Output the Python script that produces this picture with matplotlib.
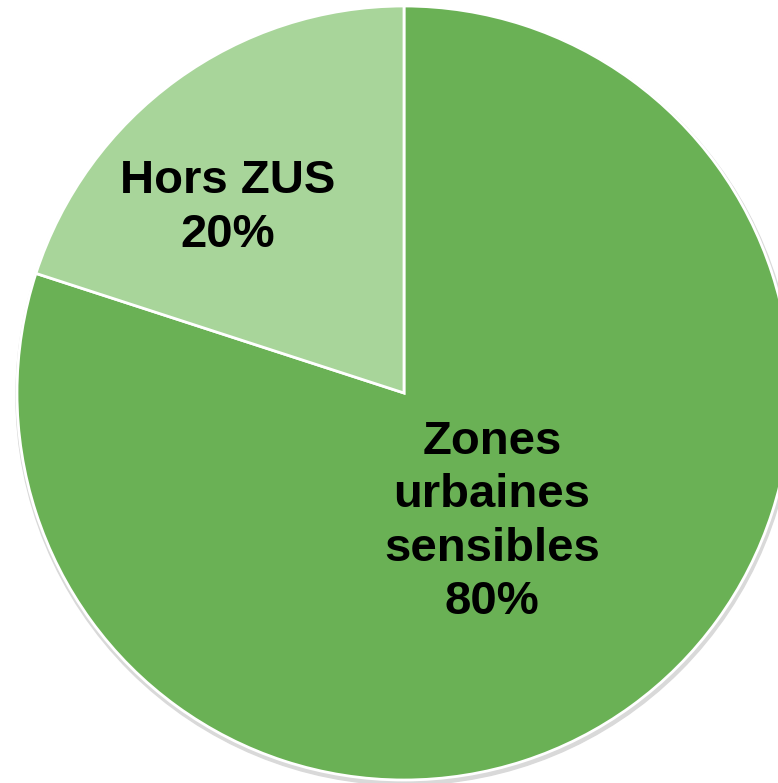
import matplotlib.pyplot as plt
from matplotlib.patches import Circle

# data
labels = ['Zones\nurbaines\nsensibles', 'Hors ZUS']
shares = [80, 20]
colors = ['#6ab155', '#a8d59a']
# label centres, relative to pie centre, in radius units
label_pos = [(0.227, -0.333), (-0.455, 0.478)]

W, H = 778, 783
fig = plt.figure(figsize=(W / 100, H / 100), dpi=100)
ax = fig.add_axes([0, 0, 1, 1])

cx, cy, r = 404, H - 393, 387

# faint shadow under the pie
ax.add_patch(Circle((cx + 1, cy - 3), r + 2, color='#d9d9d9', zorder=0))

wedges, _ = ax.pie(shares, colors=colors, startangle=90, counterclock=False,
                   center=(cx, cy), radius=r, frame=True,
                   wedgeprops=dict(edgecolor='white', linewidth=2))
ax.set_xlim(0, W)
ax.set_ylim(0, H)
ax.set_aspect('equal')
ax.axis('off')

for lab, val, (dx, dy) in zip(labels, shares, label_pos):
    ax.text(cx + dx * r, cy + dy * r, f'{lab}\n{val}%', ha='center', va='center',
            fontsize=34, fontweight='bold', family='Liberation Sans',
            linespacing=1.28, color='black')

plt.savefig('out.png', dpi=100)
